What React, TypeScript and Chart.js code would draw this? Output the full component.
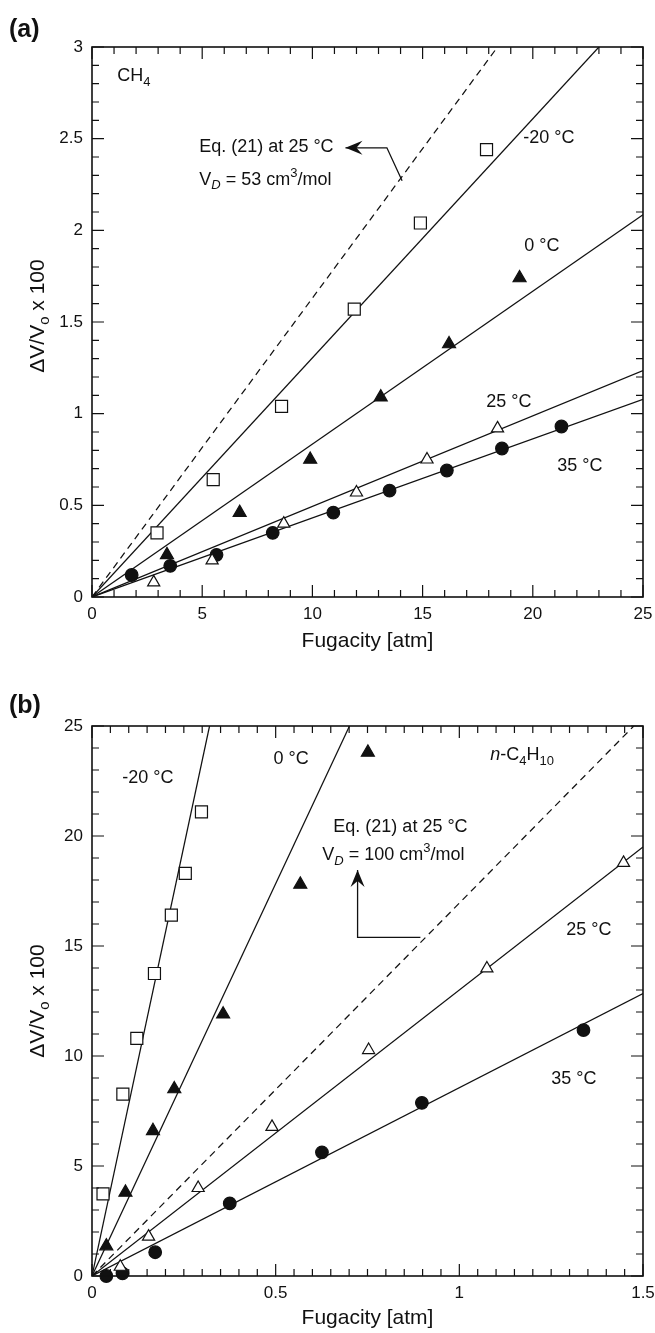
import React, { useEffect, useRef } from 'react';
import { Chart, registerables } from 'chart.js';
Chart.register(...registerables);

// ---------- Panel (a): CH4 ----------
const aM20X = [2.95, 5.5, 8.6, 11.9, 14.9, 17.9];
const aM20Y = [0.35, 0.64, 1.04, 1.57, 2.04, 2.44];
const a0X = [3.4, 6.7, 9.9, 13.1, 16.2, 19.4];
const a0Y = [0.23, 0.46, 0.75, 1.09, 1.38, 1.74];
const a25X = [2.8, 5.45, 8.7, 12.0, 15.2, 18.4];
const a25Y = [0.08, 0.2, 0.4, 0.57, 0.75, 0.92];
const a35X = [1.8, 3.55, 5.65, 8.2, 10.95, 13.5, 16.1, 18.6, 21.3];
const a35Y = [0.12, 0.17, 0.23, 0.35, 0.46, 0.58, 0.69, 0.81, 0.93];
const aFitM20X = [0, 23];
const aFitM20Y = [0, 3];
const aFit0X = [0, 25];
const aFit0Y = [0, 2.085];
const aFit25X = [0, 25];
const aFit25Y = [0, 1.235];
const aFit35X = [0, 25];
const aFit35Y = [0, 1.078];
const aEqX = [0, 18.4];
const aEqY = [0, 3];

// ---------- Panel (b): n-C4H10 ----------
const bM20X = [0.03, 0.084, 0.122, 0.17, 0.216, 0.254, 0.298];
const bM20Y = [3.73, 8.27, 10.8, 13.75, 16.4, 18.3, 21.1];
const b0X = [0.039, 0.091, 0.166, 0.224, 0.357, 0.567, 0.751];
const b0Y = [1.36, 3.8, 6.6, 8.5, 11.9, 17.8, 23.8];
const b25X = [0.077, 0.154, 0.289, 0.49, 0.753, 1.075, 1.447];
const b25Y = [0.42, 1.79, 4.0, 6.78, 10.27, 13.98, 18.78];
const b35X = [0.039, 0.083, 0.172, 0.375, 0.626, 0.898, 1.338];
const b35Y = [0, 0.12, 1.08, 3.3, 5.62, 7.87, 11.18];
const bFitM20X = [0, 0.32];
const bFitM20Y = [0, 25];
const bFit0X = [0, 0.701];
const bFit0Y = [0, 25];
const bFit25X = [0, 1.5];
const bFit25Y = [0, 19.5];
const bFit35X = [0, 1.5];
const bFit35Y = [0, 12.84];
const bEqX = [0, 1.475];
const bEqY = [0, 25];

const FONT = '"Liberation Sans", Arial, Helvetica, sans-serif';
const INK = '#111111';

type Seg = { t: string; sub?: boolean; sup?: boolean; it?: boolean };
type Ann = { segs: Seg[]; x: number; y: number };
type Arr = { xs: number[]; ys: number[] };

const zip = (xs: number[], ys: number[]) => xs.map((x, i) => ({ x, y: ys[i] }));
const fmt = (v: any) => String(+Number(v).toFixed(3));

function segFont(s: Seg, size: number) {
  const sz = s.sub || s.sup ? Math.round(size * 0.72) : size;
  return `${s.it ? 'italic ' : ''}${sz}px ${FONT}`;
}

function drawRich(ctx: CanvasRenderingContext2D, segs: Seg[], x: number, y: number, size: number, align: 'left' | 'center') {
  let w = 0;
  for (const s of segs) {
    ctx.font = segFont(s, size);
    w += ctx.measureText(s.t).width;
  }
  let cx = align === 'center' ? x - w / 2 : x;
  ctx.textAlign = 'left';
  ctx.textBaseline = 'middle';
  for (const s of segs) {
    ctx.font = segFont(s, size);
    const dy = s.sub ? size * 0.32 : s.sup ? -size * 0.38 : 0;
    ctx.fillText(s.t, cx, y + dy);
    cx += ctx.measureText(s.t).width;
  }
}

function pointSet(data: { x: number; y: number }[], style: string, filled: boolean, r: number) {
  return {
    type: 'scatter' as const,
    data,
    pointStyle: style,
    pointRadius: r,
    pointHoverRadius: r,
    pointBackgroundColor: filled ? INK : '#ffffff',
    pointBorderColor: INK,
    pointBorderWidth: 1.2,
    showLine: false,
    clip: false as any,
    order: 0,
  };
}

function lineSet(data: { x: number; y: number }[], dashed: boolean) {
  return {
    type: 'scatter' as const,
    data,
    showLine: true,
    pointRadius: 0,
    borderColor: INK,
    borderWidth: 1.25,
    borderDash: dashed ? [7, 5] : [],
    fill: false,
    order: 1,
  };
}

interface Spec {
  label: string;
  height: number;
  top: number;
  padTop: number;
  xScaleH: number;
  xMax: number; xMajor: number; xMinor: number;
  yMax: number; yMajor: number; yMinor: number;
  datasets: any[];
  anns: Ann[];
  arrows: Arr[];
  labelY: number;
  yTitleShift: number;
  xTitleOffset: number;
}

const specA: Spec = {
  label: '(a)', height: 660, top: 0, padTop: 47, xScaleH: 63,
  xMax: 25, xMajor: 5, xMinor: 1, yMax: 3, yMajor: 0.5, yMinor: 0.1,
  datasets: [
    pointSet(zip(aM20X, aM20Y), 'rect', false, 8.5),
    pointSet(zip(a0X, a0Y), 'triangle', true, 7.5),
    pointSet(zip(a25X, a25Y), 'triangle', false, 7),
    pointSet(zip(a35X, a35Y), 'circle', true, 6.3),
    lineSet(zip(aFitM20X, aFitM20Y), false),
    lineSet(zip(aFit0X, aFit0Y), false),
    lineSet(zip(aFit25X, aFit25Y), false),
    lineSet(zip(aFit35X, aFit35Y), false),
    lineSet(zip(aEqX, aEqY), true),
  ],
  anns: [
    { segs: [{ t: 'CH' }, { t: '4', sub: true }], x: 1.15, y: 2.84 },
    { segs: [{ t: 'Eq. (21) at 25 °C' }], x: 4.87, y: 2.455 },
    { segs: [{ t: 'V' }, { t: 'D', sub: true, it: true }, { t: ' = 53 cm' }, { t: '3', sup: true }, { t: '/mol' }], x: 4.87, y: 2.275 },
    { segs: [{ t: '-20 °C' }], x: 19.57, y: 2.504 },
    { segs: [{ t: '0 °C' }], x: 19.61, y: 1.915 },
    { segs: [{ t: '25 °C' }], x: 17.89, y: 1.064 },
    { segs: [{ t: '35 °C' }], x: 21.11, y: 0.715 },
  ],
  arrows: [{ xs: [14.07, 13.38, 11.5], ys: [2.27, 2.45, 2.45] }],
  labelY: 30,
  yTitleShift: -6,
  xTitleOffset: 44,
};

const specB: Spec = {
  label: '(b)', height: 673, top: 660, padTop: 66, xScaleH: 57,
  xMax: 1.5, xMajor: 0.5, xMinor: 0.05, yMax: 25, yMajor: 5, yMinor: 1,
  datasets: [
    pointSet(zip(bM20X, bM20Y), 'rect', false, 8.5),
    pointSet(zip(b0X, b0Y), 'triangle', true, 7.5),
    pointSet(zip(b25X, b25Y), 'triangle', false, 7),
    pointSet(zip(b35X, b35Y), 'circle', true, 6.3),
    lineSet(zip(bFitM20X, bFitM20Y), false),
    lineSet(zip(bFit0X, bFit0Y), false),
    lineSet(zip(bFit25X, bFit25Y), false),
    lineSet(zip(bFit35X, bFit35Y), false),
    lineSet(zip(bEqX, bEqY), true),
  ],
  anns: [
    { segs: [{ t: '-20 °C' }], x: 0.0825, y: 22.63 },
    { segs: [{ t: '0 °C' }], x: 0.494, y: 23.49 },
    { segs: [{ t: 'n', it: true }, { t: '-C' }, { t: '4', sub: true }, { t: 'H' }, { t: '10', sub: true }], x: 1.084, y: 23.67 },
    { segs: [{ t: 'Eq. (21) at 25 °C' }], x: 0.657, y: 20.4 },
    { segs: [{ t: 'V' }, { t: 'D', sub: true, it: true }, { t: ' = 100 cm' }, { t: '3', sup: true }, { t: '/mol' }], x: 0.627, y: 19.13 },
    { segs: [{ t: '25 °C' }], x: 1.291, y: 15.72 },
    { segs: [{ t: '35 °C' }], x: 1.25, y: 8.95 },
  ],
  arrows: [{ xs: [0.894, 0.723, 0.723], ys: [15.39, 15.39, 18.45] }],
  labelY: 46,
  yTitleShift: 0,
  xTitleOffset: 42,
};

function makeConfig(spec: Spec): any {
  const tickFont = { family: FONT, size: 17 };
  const decor = {
    id: 'decor',
    afterDatasetsDraw(chart: any) {
      const ctx: CanvasRenderingContext2D = chart.ctx;
      const { left, right, top, bottom } = chart.chartArea;
      const xs = chart.scales.x;
      const ys = chart.scales.y;
      ctx.save();
      ctx.strokeStyle = INK;
      ctx.fillStyle = INK;
      ctx.lineWidth = 1.2;
      const nX = Math.round(spec.xMax / spec.xMinor);
      for (let i = 0; i <= nX; i++) {
        const v = i * spec.xMinor;
        const r = v / spec.xMajor;
        const major = Math.abs(r - Math.round(r)) < 1e-6;
        const len = major ? 12 : 7;
        const px = xs.getPixelForValue(v);
        ctx.beginPath();
        ctx.moveTo(px, bottom); ctx.lineTo(px, bottom - len);
        ctx.moveTo(px, top); ctx.lineTo(px, top + len);
        ctx.stroke();
      }
      const nY = Math.round(spec.yMax / spec.yMinor);
      for (let i = 0; i <= nY; i++) {
        const v = i * spec.yMinor;
        const r = v / spec.yMajor;
        const major = Math.abs(r - Math.round(r)) < 1e-6;
        const len = major ? 12 : 7;
        const py = ys.getPixelForValue(v);
        ctx.beginPath();
        ctx.moveTo(left, py); ctx.lineTo(left + len, py);
        ctx.moveTo(right, py); ctx.lineTo(right - len, py);
        ctx.stroke();
      }
      ctx.lineWidth = 1.6;
      ctx.strokeRect(left, top, right - left, bottom - top);
      ctx.lineWidth = 1.3;
      for (const a of spec.arrows) {
        const pts = a.xs.map((x, i) => [xs.getPixelForValue(x), ys.getPixelForValue(a.ys[i])]);
        ctx.beginPath();
        ctx.moveTo(pts[0][0], pts[0][1]);
        for (let i = 1; i < pts.length; i++) ctx.lineTo(pts[i][0], pts[i][1]);
        ctx.stroke();
        const [tx, ty] = pts[pts.length - 1];
        const [px, py] = pts[pts.length - 2];
        const ang = Math.atan2(ty - py, tx - px);
        const L = 17, W = 7, N = 11;
        const c = Math.cos(ang), s = Math.sin(ang);
        ctx.beginPath();
        ctx.moveTo(tx, ty);
        ctx.lineTo(tx - L * c - W * s, ty - L * s + W * c);
        ctx.lineTo(tx - N * c, ty - N * s);
        ctx.lineTo(tx - L * c + W * s, ty - L * s - W * c);
        ctx.closePath();
        ctx.fill();
      }
      for (const an of spec.anns) {
        drawRich(ctx, an.segs, xs.getPixelForValue(an.x), ys.getPixelForValue(an.y), 18, 'left');
      }
      ctx.restore();
    },
    afterDraw(chart: any) {
      const ctx: CanvasRenderingContext2D = chart.ctx;
      const { left, right, top, bottom } = chart.chartArea;
      ctx.save();
      ctx.fillStyle = INK;
      ctx.font = `bold 25px ${FONT}`;
      ctx.textAlign = 'left';
      ctx.textBaseline = 'middle';
      ctx.fillText(spec.label, 9, spec.labelY);
      drawRich(ctx, [{ t: 'Fugacity [atm]' }], (left + right) / 2, bottom + spec.xTitleOffset, 21, 'center');
      ctx.translate(38, (top + bottom) / 2 + spec.yTitleShift);
      ctx.rotate(-Math.PI / 2);
      drawRich(ctx, [{ t: 'ΔV/V' }, { t: 'o', sub: true }, { t: ' x 100' }], 0, 0, 21, 'center');
      ctx.restore();
    },
  };
  return {
    type: 'scatter',
    data: { datasets: spec.datasets },
    options: {
      animation: false,
      responsive: false,
      devicePixelRatio: 1,
      events: [],
      layout: { padding: { left: 0, top: spec.padTop, right: 12, bottom: 0 } },
      plugins: { legend: { display: false }, tooltip: { enabled: false }, title: { display: false } },
      scales: {
        x: {
          type: 'linear', min: 0, max: spec.xMax,
          ticks: { stepSize: spec.xMajor, font: tickFont, color: INK, padding: 7, maxRotation: 0, callback: fmt },
          grid: { display: false, drawTicks: false },
          border: { display: false },
          afterFit: (s: any) => { s.height = spec.xScaleH; s.paddingLeft = 0; s.paddingRight = 0; },
        },
        y: {
          type: 'linear', min: 0, max: spec.yMax,
          ticks: { stepSize: spec.yMajor, font: tickFont, color: INK, padding: 9, callback: fmt },
          grid: { display: false, drawTicks: false },
          border: { display: false },
          afterFit: (s: any) => { s.width = 92; s.paddingTop = 0; s.paddingBottom = 0; },
        },
      },
    },
    plugins: [decor],
  };
}

function Panel({ spec }: { spec: Spec }) {
  const ref = useRef<HTMLCanvasElement>(null);
  useEffect(() => {
    const chart = new Chart(ref.current as HTMLCanvasElement, makeConfig(spec));
    return () => chart.destroy();
  }, [spec]);
  return (
    <canvas
      ref={ref}
      width={655}
      height={spec.height}
      style={{ position: 'absolute', left: 0, top: spec.top, width: 655, height: spec.height }}
    />
  );
}

export default function App() {
  return (
    <div style={{ position: 'absolute', left: 0, top: 0, width: 655, height: 1333, background: '#ffffff' }}>
      <Panel spec={specA} />
      <Panel spec={specB} />
    </div>
  );
}
